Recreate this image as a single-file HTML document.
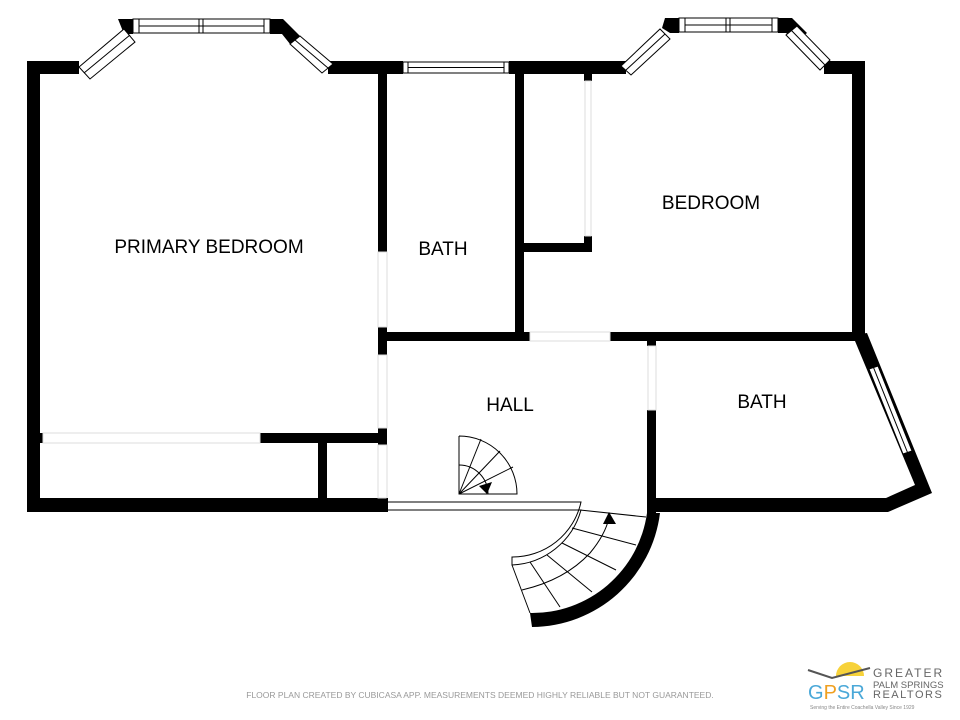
<!DOCTYPE html>
<html><head><meta charset="utf-8"><style>
html,body{margin:0;padding:0;background:#fff;width:960px;height:720px;overflow:hidden}
svg{display:block}
text{font-family:"Liberation Sans",Arial,sans-serif}
</style></head><body>
<svg width="960" height="720" viewBox="0 0 960 720" xmlns="http://www.w3.org/2000/svg">
<g fill="#000">
<rect x="27" y="61" width="13" height="451"/>
<rect x="27" y="61" width="52" height="13"/>
<rect x="328" y="61" width="75" height="13"/>
<rect x="509" y="61" width="117" height="13"/>
<rect x="824" y="61" width="41" height="13"/>
<rect x="852" y="61" width="13" height="280"/>
<rect x="27" y="498" width="361" height="14"/>
<rect x="378" y="74" width="9" height="178"/>
<rect x="378" y="327" width="9" height="28"/>
<rect x="378" y="428" width="9" height="17"/>
<rect x="260" y="433" width="127" height="10"/>
<rect x="318" y="443" width="9" height="55"/>
<rect x="27" y="433" width="16" height="10"/>
<rect x="515" y="74" width="9" height="267"/>
<rect x="524" y="243" width="68" height="9"/>
<rect x="584" y="236" width="8" height="16"/>
<rect x="584" y="74" width="8" height="7"/>
<rect x="380" y="332" width="150" height="9"/>
<rect x="610" y="332" width="250" height="9"/>
<rect x="647" y="341" width="9" height="5"/>
<rect x="647" y="410" width="9" height="105"/>
<rect x="656" y="498" width="232" height="14"/>
<polygon points="852,335 867,333 932,493 888,512 886,498 915,485 855,341"/>
<polygon points="118,19 133,19 133,34 124,34"/>
<polygon points="270,19 283,19 300,36 290,44 282,34 270,34"/>
<polygon points="665,18 679,18 679,33 670,33 662,28"/>
<polygon points="778,18 792,18 807,33 797,41 786,33 778,33"/>
<path d="M647,513 L660,513 A130,130 0 0 1 532,627 L530,613 A116,116 0 0 0 647,513 Z"/>
</g>
<g fill="#fff" stroke="#000" stroke-width="1">
<rect x="403" y="62" width="106" height="11"/>
<line x1="408" y1="62" x2="408" y2="73"/><line x1="504" y1="62" x2="504" y2="73"/>
<line x1="408" y1="67.5" x2="504" y2="67.5"/>
<rect x="133" y="19" width="137" height="14"/>
<line x1="139" y1="19" x2="139" y2="33"/><line x1="264" y1="19" x2="264" y2="33"/>
<line x1="199" y1="19" x2="199" y2="33"/><line x1="203" y1="19" x2="203" y2="33"/>
<line x1="139" y1="26" x2="264" y2="26"/>
<rect x="679" y="18" width="99" height="14"/>
<line x1="685" y1="18" x2="685" y2="32"/><line x1="772" y1="18" x2="772" y2="32"/>
<line x1="726" y1="18" x2="726" y2="32"/><line x1="730" y1="18" x2="730" y2="32"/>
<line x1="685" y1="25" x2="772" y2="25"/>
<polygon points="79,67 124,29 135,42 90,79"/>
<line x1="84" y1="73" x2="130" y2="35"/>
<polygon points="290,44 300,36 333,64 322,73"/>
<line x1="295" y1="40" x2="328" y2="68"/>
<polygon points="621,66 660,29 670,39 631,75"/>
<line x1="626" y1="70" x2="665" y2="34"/>
<polygon points="786,35 797,26 830,60 820,70"/>
<line x1="791" y1="30" x2="825" y2="65"/>
<polygon points="869,369 878,366 912,451 903,454"/>
<line x1="873.5" y1="367.5" x2="907.5" y2="452.5"/>
</g>
<g fill="none" stroke="#ddd" stroke-width="1">
<rect x="43" y="433" width="217" height="10"/>
<rect x="378" y="252" width="9" height="75"/>
<rect x="378" y="355" width="9" height="73"/>
<rect x="378" y="445" width="9" height="53"/>
<rect x="585" y="81" width="6" height="155"/>
<rect x="530" y="332" width="80" height="9"/>
<rect x="648" y="346" width="8" height="64"/>
</g>
<g fill="none" stroke="#000" stroke-width="1">
<path d="M387,502 L581,502 A70,70 0 0 1 512,557 L512,565 A75,75 0 0 0 581,510 L387,510"/>
<line x1="387" y1="512" x2="387" y2="498"/>
<path d="M580,510 L646,517"/>
<path d="M572,528 L636,545"/>
<path d="M562,543 L616,570"/>
<path d="M547,555 L592,592"/>
<path d="M530,562 L560,607"/>
<path d="M512,565 L530,613"/>
<path d="M522,590 Q565,580 590,553 Q605,535 609,518"/>
<path d="M459,436 L459,494 L517,494 A58,58 0 0 0 459,436"/>
<path d="M459,494 L481,439"/><path d="M459,494 L500,451"/><path d="M459,494 L513,467"/>
<path d="M459,465 A29,29 0 0 1 488,494"/>
</g>
<polygon points="609,512 603,524 616,524" fill="#000"/>
<polygon points="479,486 492,482 487,494" fill="#000"/>
<g font-size="19" fill="#000" text-anchor="middle">
<text x="209" y="253">PRIMARY BEDROOM</text>
<text x="443" y="255">BATH</text>
<text x="711" y="209">BEDROOM</text>
<text x="510" y="411">HALL</text>
<text x="762" y="408">BATH</text>
</g>
<text x="480" y="698" font-size="8.5" fill="#999" text-anchor="middle">FLOOR PLAN CREATED BY CUBICASA APP. MEASUREMENTS DEEMED HIGHLY RELIABLE BUT NOT GUARANTEED.</text>
<path d="M836,676 A14,14 0 0 1 864,676 Z" fill="#f7d23a"/>
<path d="M808,670 L832,678 L870,668" fill="none" stroke="#555" stroke-width="2"/>
<text x="808" y="699" font-size="20" fill="#4aa8d8">G<tspan fill="#f0a020">P</tspan>SR</text>
<text x="873" y="677" font-size="12" fill="#666" letter-spacing="2">GREATER</text>
<text x="873" y="688" font-size="9.5" fill="#666">PALM SPRINGS</text>
<text x="873" y="698" font-size="11" fill="#666" letter-spacing="1.5">REALTORS</text>
<text x="810" y="709" font-size="5" fill="#888">Serving the Entire Coachella Valley Since 1929</text>
</svg>
</body></html>
